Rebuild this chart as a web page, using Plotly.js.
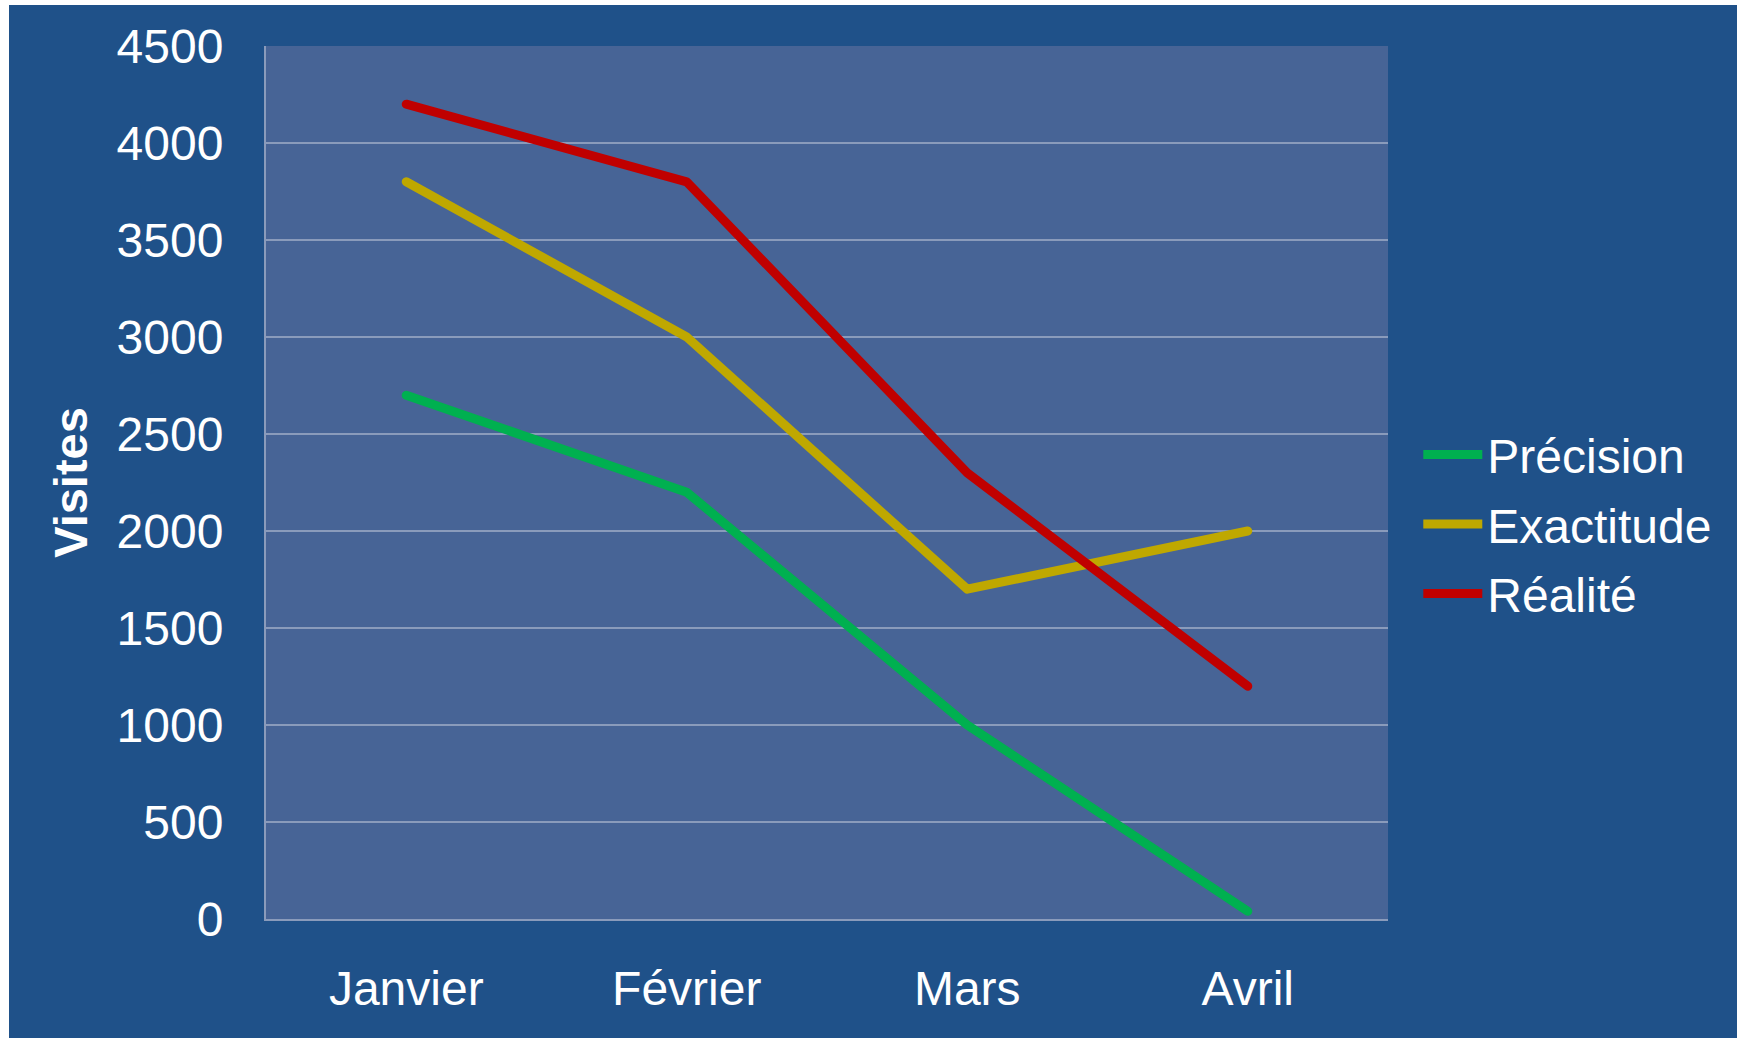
<!DOCTYPE html>
<html>
<head>
<meta charset="utf-8">
<script src="https://cdn.plot.ly/plotly-3.0.1.min.js"></script>
<style>
html,body{margin:0;padding:0;background:#ffffff;}
#chart{position:absolute;left:9px;top:5px;width:1728px;height:1033px;}
#chart .scatterlayer path.js-line{stroke-linecap:round;stroke-linejoin:round;}
</style>
</head>
<body>
<div id="chart"></div>
<script>
const months = ["Janvier", "Février", "Mars", "Avril"];
const precision = [2700, 2200, 1000, 40];
const exactitude = [3800, 3000, 1700, 2000];
const realite = [4200, 3800, 2300, 1200];
const seriesNames = ["Précision", "Exactitude", "Réalité"];
const seriesColors = ["#00B050", "#BFA800", "#C00000"];
const yTicks = [0, 500, 1000, 1500, 2000, 2500, 3000, 3500, 4000, 4500];

const seriesValues = [precision, exactitude, realite];
const traces = seriesValues.map((vals, i) => ({
  type: "scatter",
  mode: "lines",
  x: months,
  y: vals,
  name: seriesNames[i],
  legendgroup: "g" + i,
  line: {color: seriesColors[i], width: 9},
  hoverinfo: "x+y+name"
}));

const layout = {
  width: 1728,
  height: 1033,
  margin: {l: 257, r: 349, t: 41, b: 119, pad: 0},
  paper_bgcolor: "#1F5189",
  plot_bgcolor: "#476496",
  font: {family: "Liberation Sans, Arial, sans-serif", color: "#ffffff", size: 48},
  showlegend: true,
  legend: {
    x: 1.027, xanchor: "left",
    y: 0.452, yanchor: "middle",
    font: {size: 48, color: "#ffffff"},
    bgcolor: "rgba(0,0,0,0)",
    tracegroupgap: 4,
    traceorder: "grouped",
    itemwidth: 59
  },
  xaxis: {
    type: "category",
    range: [-0.5, 3.5],
    showgrid: false,
    showline: true,
    linecolor: "#8A9BBB",
    linewidth: 2,
    ticks: "",
    ticklabelstandoff: 26,
    tickfont: {size: 48, color: "#ffffff"},
    zeroline: false,
    fixedrange: true
  },
  yaxis: {
    range: [0, 4500],
    tickvals: yTicks,
    ticktext: yTicks.map(String),
    showgrid: true,
    gridcolor: "#8A9BBB",
    gridwidth: 2,
    showline: true,
    linecolor: "#8A9BBB",
    linewidth: 2,
    zeroline: false,
    ticks: "",
    ticklabelstandoff: 31,
    tickfont: {size: 48, color: "#ffffff"},
    title: {text: "<b>Visites</b>", font: {size: 47, color: "#ffffff"}, standoff: 14},
    fixedrange: true
  }
};

Plotly.newPlot("chart", traces, layout, {displayModeBar: false, staticPlot: true});
</script>
</body>
</html>
